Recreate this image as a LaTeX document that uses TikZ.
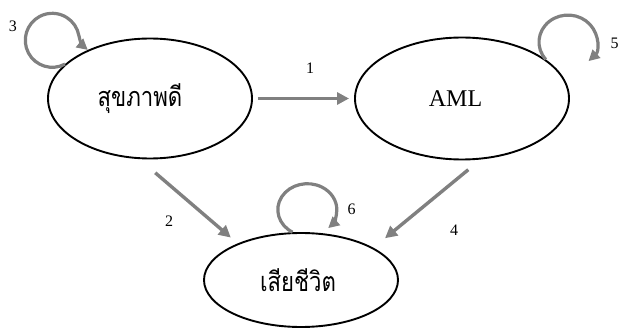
\documentclass[tikz,border=0pt]{standalone}
\usepackage{fontspec}
\setmainfont{Liberation Serif}
\newfontfamily\thaifont[Script=Thai]{Loma}
\usetikzlibrary{arrows.meta,shapes.geometric}
\begin{document}
\begin{tikzpicture}[x=1pt,y=1pt,
  state/.style={ellipse,draw=black,line width=1.9pt,fill=white,inner sep=0pt},
  arr/.style={draw=black!50,line width=3.4pt,-{Triangle[length=12pt,width=12pt]}},
  selfloop/.style={draw=black!50,line width=3.2pt,-{Triangle[length=11pt,width=11pt]}},
  num/.style={font=\fontsize{16}{16}\selectfont,inner sep=0pt}]
\useasboundingbox (0,0) rectangle (619,330);
\node[state,minimum width=204pt,minimum height=120pt] (h) at (150,231.5)
  {\scalebox{0.82}[1]{\thaifont\fontsize{27}{30}\selectfont สุขภาพดี}\hspace*{20pt}};
\node[state,minimum width=214pt,minimum height=122pt] (a) at (462,231.5)
  {\fontsize{24}{28}\selectfont AML\hspace*{13pt}};
\node[state,minimum width=194pt,minimum height=94pt] (d) at (301,50)
  {\scalebox{0.82}[1]{\thaifont\fontsize{27}{30}\selectfont เสียชีวิต}\hspace*{6pt}};
\draw[arr,shorten <=5pt,shorten >=5pt] (h.east) -- (a.west);
\draw[arr,shorten <=21pt,shorten >=9pt] (h.-100) -- (d.150);
\draw[arr,shorten <=16pt,shorten >=15pt] (a.-73) -- (d.24);
\draw[selfloop] (h.158) arc[start angle=-62,end angle=-350,x radius=27pt,y radius=27pt] to[out=-80,in=140] (h.142);
\draw[selfloop] (a.25) arc[start angle=-140,end angle=-405,x radius=29pt,y radius=27pt];
\draw[selfloop] (d.100) arc[start angle=-120,end angle=-405,x radius=29.5pt,y radius=26pt];
\node[num] (n1) at (310,261.7) {1};
\node[num] (n2) at (169,108.3) {2};
\node[num] (n3) at (13,304) {3};
\node[num] (n4) at (454,99.3) {4};
\node[num] (n5) at (614.7,286.7) {5};
\node[num] (n6) at (351.7,121) {6};
\end{tikzpicture}
\end{document}
